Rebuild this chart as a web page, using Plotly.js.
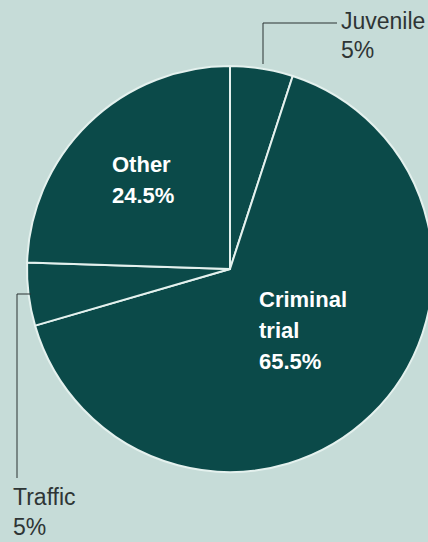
<!DOCTYPE html>
<html>
<head>
<meta charset="utf-8">
<script src="https://cdn.plot.ly/plotly-3.0.1.min.js"></script>
<style>
html,body{margin:0;padding:0;overflow:hidden;background:#c6dcd8;}
#chart{width:434px;height:542px;}
</style>
</head>
<body>
<div id="chart"></div>
<script>
// Data (clockwise from 12 o'clock)
const categories = ["Juvenile", "Criminal trial", "Traffic", "Other"];
const shares = [5, 65.5, 5, 24.5];
const labelLines = [["Juvenile"], ["Criminal", "trial"], ["Traffic"], ["Other"]];

const W = 434, H = 542;
const cx = 230, cy = 269, R = 203;
const px = x => x / W;
const py = y => 1 - y / H;

const BG = "#c6dcd8";
const PIE = "#0b4a49";
const TXT = "#2e3535";

const trace = {
  type: "pie",
  labels: categories,
  values: shares,
  sort: false,
  direction: "clockwise",
  rotation: 0,
  textinfo: "none",
  hoverinfo: "label+percent",
  marker: { colors: categories.map(() => PIE), line: { color: "#e4f1ee", width: 2 } },
  domain: { x: [px(cx - R), px(cx + R)], y: [py(cy + R), py(cy - R)] },
  showlegend: false
};

// label placement (positions only, text from data arrays)
const placements = [
  { x: 340, baselines: [29, 58], bold: false, color: TXT },   // Juvenile
  { x: 258, baselines: [307, 338, 370], bold: true, color: "#ffffff" }, // Criminal trial
  { x: 12, baselines: [505, 535], bold: false, color: TXT },  // Traffic
  { x: 111, baselines: [172, 203], bold: true, color: "#ffffff" } // Other
];

const FS = 23;
const annotations = [];
categories.forEach((c, i) => {
  const lines = labelLines[i].concat([shares[i] + "%"]);
  const p = placements[i];
  lines.forEach((t, j) => {
    annotations.push({
      xref: "paper", yref: "paper",
      x: px(p.x), y: py(p.baselines[j] - 8),
      xanchor: "left", yanchor: "middle",
      text: p.bold ? "<b>" + t + "</b>" : t,
      showarrow: false,
      font: { family: "Liberation Sans, Arial, sans-serif", size: p.bold ? 22 : FS, color: p.color },
      borderpad: 0
    });
  });
});

const lineStyle = { color: "#2a3333", width: 1 };
const shapes = [
  // Juvenile leader
  { type: "line", xref: "paper", yref: "paper", x0: px(263), y0: py(64), x1: px(263), y1: py(23), line: lineStyle },
  { type: "line", xref: "paper", yref: "paper", x0: px(263), y0: py(23), x1: px(337), y1: py(23), line: lineStyle },
  // Traffic leader
  { type: "line", xref: "paper", yref: "paper", x0: px(31), y0: py(294), x1: px(17), y1: py(294), line: lineStyle },
  { type: "line", xref: "paper", yref: "paper", x0: px(17), y0: py(294), x1: px(17), y1: py(478), line: lineStyle }
];

const layout = {
  width: W, height: H,
  margin: { l: 0, r: 0, t: 0, b: 0 },
  paper_bgcolor: BG,
  plot_bgcolor: BG,
  annotations: annotations,
  shapes: shapes
};

Plotly.newPlot("chart", [trace], layout, { displayModeBar: false, staticPlot: true });
</script>
</body>
</html>
